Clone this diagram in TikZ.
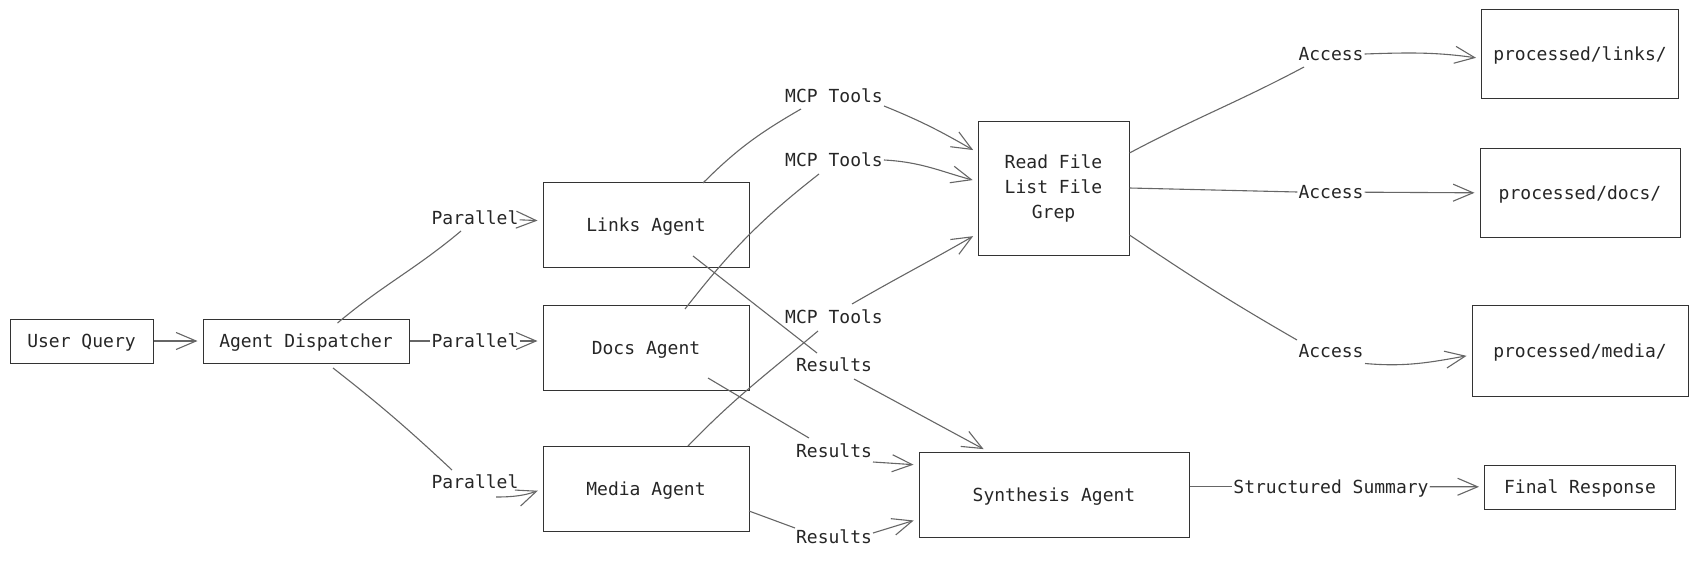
\documentclass[tikz,border=0pt]{standalone}
\usepackage{fontspec}
\setmonofont{DejaVu Sans Mono}
\usetikzlibrary{arrows.meta,calc}
\begin{document}
\begin{tikzpicture}[x=1pt,y=1pt,
  every node/.style={font=\ttfamily\fontsize{18}{25}\selectfont, text=black!85},
  box/.style={draw=black!80, line width=1pt, inner sep=0pt, align=center},
  line/.style={text height=16pt, text depth=3pt},
  lbl/.style={line, inner sep=1pt},
  link/.style={draw=black!60, line width=1.1pt},
  flow/.style={link, -{Straight Barb[length=20pt,width=17pt]}, shorten >=5pt}]
\useasboundingbox (0,0) rectangle (1689,-560);

\node[box, line, minimum width=143pt, minimum height=44pt] (query) at (81.5,-341) {User Query};
\node[box, line, minimum width=206pt, minimum height=44pt] (disp) at (306,-341) {Agent Dispatcher};
\node[box, line, minimum width=206pt, minimum height=85pt] (links) at (646,-225) {Links Agent};
\node[box, line, minimum width=206pt, minimum height=85pt] (docs) at (646,-347.5) {Docs Agent};
\node[box, line, minimum width=206pt, minimum height=85pt] (media) at (646,-489) {Media Agent};
\node[box, minimum width=151pt, minimum height=134pt] (tools) at (1053.5,-188) {Read File\\List File\\Grep};
\node[box, line, minimum width=270pt, minimum height=85pt] (synth) at (1054,-494.5) {Synthesis Agent};
\node[box, line, minimum width=197pt, minimum height=89pt] (plinks) at (1580,-54) {processed/links/};
\node[box, line, minimum width=200pt, minimum height=89pt] (pdocs) at (1580,-193.4) {processed/docs/};
\node[box, line, minimum width=216pt, minimum height=91pt] (pmedia) at (1580,-351.4) {processed/media/};
\node[box, line, minimum width=191pt, minimum height=44pt] (final) at (1580,-487) {Final Response};

\node[lbl] (par1) at (475,-218) {Parallel};
\node[lbl] (par2) at (475,-341) {Parallel};
\node[lbl] (par3) at (475,-482) {Parallel};
\node[lbl] (mcp1) at (834,-96) {MCP Tools};
\node[lbl] (mcp2) at (834,-160) {MCP Tools};
\node[lbl] (mcp3) at (834,-317) {MCP Tools};
\node[lbl] (res1) at (834,-365) {Results};
\node[lbl] (res2) at (834,-451) {Results};
\node[lbl] (res3) at (834,-537) {Results};
\node[lbl] (acc1) at (1331,-54) {Access};
\node[lbl] (acc2) at (1331,-192) {Access};
\node[lbl] (acc3) at (1331,-350.5) {Access};
\node[lbl] (summ) at (1331,-486.5) {Structured Summary};

\draw[flow] (query) -- (disp);
\draw[link] ($(disp)+(31.5,18)$) to[out=40,in=220] ($(par1)+(-14,-13)$);
\draw[flow] (par1) -- (links);
\draw[link] (disp) -- (par2);
\draw[flow] (par2) -- (par2 -| docs.west);
\draw[link] ($(disp)+(27,-27)$) to[out=-38,in=137] ($(par3)+(-23,12)$);
\draw[flow] ($(par3)+(21,-15)$) to[out=0,in=200] (media.west);

\draw[link] ($(links)+(57,42)$) to[out=45,in=210] ($(mcp1)+(-33,-13)$);
\draw[flow] ($(mcp1)+(50,-10)$) to[out=-22,in=150] (tools.155);
\draw[link] ($(docs)+(39,38.5)$) to[out=52,in=218] ($(mcp2)+(-15,-14)$);
\draw[flow] (mcp2.east) to[out=-3,in=165] (tools.175);
\draw[link] ($(media)+(42,43)$) to[out=46,in=220] ($(mcp3)+(-16,-14)$);
\draw[flow] ($(mcp3)+(18,13)$) to[out=30,in=210] (tools.211);

\draw[link] ($(links)+(47,-31)$) -- ($(res1)+(-17,12)$);
\draw[flow] ($(res1)+(20,-14)$) -- ($(synth.north)+(-66,0)$);
\draw[link] ($(docs)+(62,-30.5)$) -- ($(res2)+(-25,13)$);
\draw[flow] ($(res2)+(39,-11)$) -- ($(synth.west)+(0,29.5)$);
\draw[link] ($(media)+(103,-22)$) -- ($(res3)+(-39,9)$);
\draw[flow] ($(res3)+(39,4)$) -- ($(synth.west)+(0,-24.5)$);

\draw[link] ($(tools.east)+(0,35)$) to[out=28,in=208] ($(acc1)+(-27,-13)$);
\draw[flow] (acc1.east) to[out=2,in=172] ($(plinks.west)+(0,-4.5)$);
\draw[link] (tools.east) -- (acc2.west);
\draw[flow] (acc2) -- (pdocs);
\draw[link] ($(tools.east)+(0,-47)$) to[out=-34,in=150] ($(acc3)+(-34,10.5)$);
\draw[flow] ($(acc3)+(34,-13)$) to[out=-5,in=190] ($(pmedia.west)+(0,-3.6)$);
\draw[link] (synth.east |- summ) -- (summ);
\draw[flow] (summ) -- (final);
\end{tikzpicture}
\end{document}
